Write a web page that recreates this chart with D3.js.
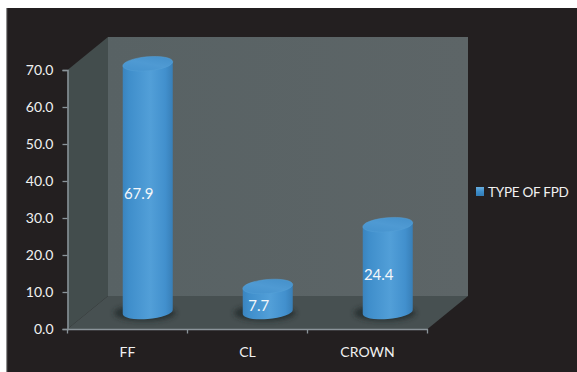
<!DOCTYPE html>
<html><head><meta charset="utf-8">
<style>html,body{margin:0;padding:0;background:#fff}svg{display:block}text{font-family:Lato,"Open Sans",sans-serif;}</style>
<script src="https://cdn.jsdelivr.net/npm/d3@7"></script></head><body>
<svg id="c" width="577" height="372"></svg>
<script>
const categories = ["FF","CL","CROWN"];
const values = [67.9,7.7,24.4];
const tickValues = [0,10,20,30,40,50,60,70];
const seriesName = "TYPE OF FPD";

const svg = d3.select("#c");
const W=577,H=372;
svg.append("rect").attr("x",6).attr("y",8).attr("width",W-6).attr("height",H-8).attr("fill","#231f20");
svg.append("rect").attr("x",6).attr("y",8).attr("width",1.2).attr("height",H-8).attr("fill","#8f8f8f");

const x = d3.scaleBand().domain(categories).range([67.5,427.5]);
const y = d3.scaleLinear().domain([0,70]).range([329,70]);
const dx=40.5, dy=-33;

const defs = svg.append("defs");
const g = defs.append("linearGradient").attr("id","body");
[[0,"#3a84bf"],[0.12,"#3f8ecb"],[0.55,"#529fd8"],[0.85,"#4290cd"],[1,"#387fb8"]].forEach(s=>g.append("stop").attr("offset",s[0]).attr("stop-color",s[1]));
const t = defs.append("linearGradient").attr("id","top").attr("x1",0).attr("x2",1).attr("y1",1).attr("y2",0);
[[0,"#4391cd"],[0.5,"#4f9ad3"],[1,"#438ec8"]].forEach(s=>t.append("stop").attr("offset",s[0]).attr("stop-color",s[1]));
const wallG = defs.append("linearGradient").attr("id","wall").attr("x1",0).attr("x2",1);
[[0,"#586264"],[1,"#5d6567"]].forEach(s=>wallG.append("stop").attr("offset",s[0]).attr("stop-color",s[1]));
defs.append("filter").attr("id","blur").attr("x","-30%").attr("y","-50%").attr("width","160%").attr("height","200%")
  .append("feGaussianBlur").attr("stdDeviation",2.5);
const sw = defs.append("linearGradient").attr("id","sw").attr("x1",0).attr("x2",0).attr("y1",0).attr("y2",1);
[[0,"#69aede"],[0.5,"#3d8dca"],[1,"#327cb6"]].forEach(s=>sw.append("stop").attr("offset",s[0]).attr("stop-color",s[1]));

const x0=x.range()[0], x1=x.range()[1], y0=y(0), yT=y(70);
const poly=(pts,f)=>svg.append("polygon").attr("points",pts.map(p=>p.join(",")).join(" ")).attr("fill",f);
poly([[x0+dx,yT+dy],[x1+dx,yT+dy],[x1+dx,y0+dy],[x0+dx,y0+dy]],"url(#wall)");
poly([[x0,yT],[x0+dx,yT+dy],[x0+dx,y0+dy],[x0,y0]],"#434d4d");
poly([[x0,y0],[x0+dx,y0+dy],[x1+dx,y0+dy],[x1,y0]],"#475051");

const axisColor="#8b949a";
const yAxis = svg.append("g").attr("transform",`translate(${x0},0)`)
  .call(d3.axisLeft(y).tickValues(tickValues).tickSize(5).tickPadding(9).tickFormat(d3.format(".1f")));
const xAxis = svg.append("g").attr("transform",`translate(0,${y0})`)
  .call(d3.axisBottom(x).tickSize(0).tickPadding(18));
xAxis.selectAll(".tick").select("line").remove();
xAxis.selectAll(".boundary").data(d3.range(categories.length+1)).enter().append("line")
  .attr("x1",i=>x0+i*x.step()).attr("x2",i=>x0+i*x.step()).attr("y1",0).attr("y2",4.5);
[yAxis,xAxis].forEach(a=>{
  a.selectAll("path").attr("stroke",axisColor).attr("stroke-width",1.5);
  a.selectAll("line").attr("stroke",axisColor).attr("stroke-width",1.3);
  a.selectAll("text").attr("fill","#f1f1f1").attr("font-size",14).attr("font-family","Lato,'Open Sans',sans-serif");
});

const rx=25, ry=7, tilt=2, baseLift=17, topLift=14;
const bars = svg.selectAll(".cyl").data(categories.map((c,i)=>({c,v:values[i]}))).enter().append("g");
bars.append("ellipse").attr("cx",d=>x(d.c)+x.bandwidth()/2+dx/2-3).attr("cy",y0+dy/2+0.5)
  .attr("rx",rx+6).attr("ry",ry+1).attr("fill","#1f2526").attr("opacity",0.7).attr("filter","url(#blur)");
bars.append("path").attr("fill","url(#body)").attr("d",d=>{
  const cx=x(d.c)+x.bandwidth()/2+dx/2, by=y0-baseLift, ty=y(d.v)-topLift;
  return `M${cx-rx},${ty+tilt}L${cx+rx},${ty-tilt}L${cx+rx},${by-tilt}A${rx},${ry} -5 0 1 ${cx-rx},${by+tilt}Z`;
});
bars.append("ellipse").attr("fill","url(#top)").attr("stroke","#55a0d6").attr("stroke-width",0.5)
  .attr("rx",rx).attr("ry",ry)
  .attr("transform",d=>`translate(${x(d.c)+x.bandwidth()/2+dx/2},${y(d.v)-topLift}) rotate(-5)`);
bars.append("text").attr("x",d=>x(d.c)+x.bandwidth()/2+dx/2-9)
  .attr("y",d=>(y(d.v)+y0)/2-baseLift+13).attr("text-anchor","middle").attr("fill","#f4f7fa").attr("font-size",15)
  .text(d=>d.v.toFixed(1));

svg.append("rect").attr("x",476).attr("y",187).attr("width",8).attr("height",9).attr("fill","url(#sw)");
svg.append("text").attr("x",488).attr("y",196.5).attr("fill","#f1f1f1").attr("font-size",13.5).attr("letter-spacing",-0.25).text(seriesName);
</script></body></html>
